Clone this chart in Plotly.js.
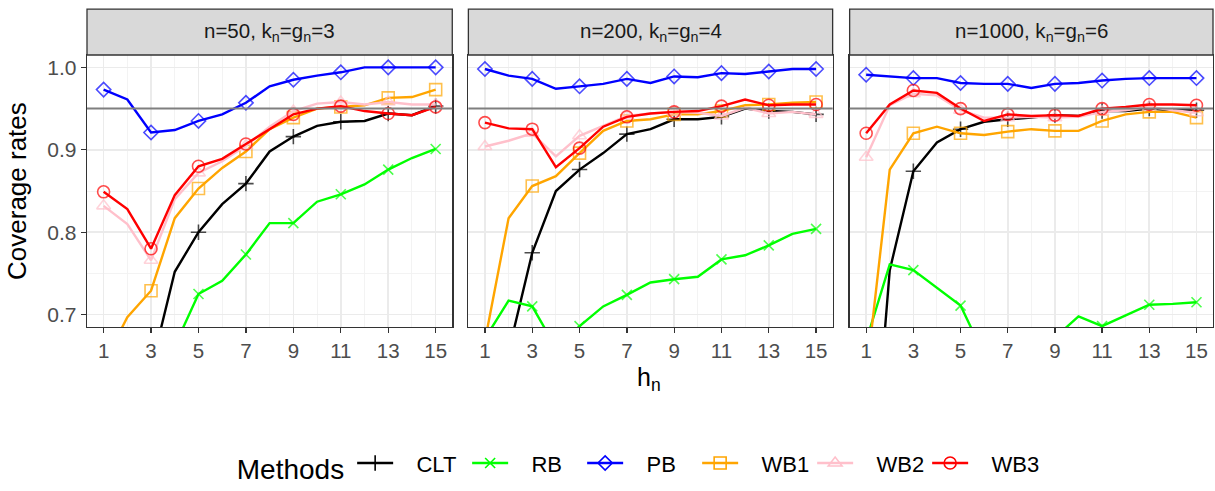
<!DOCTYPE html>
<html>
<head>
<meta charset="utf-8">
<script src="https://cdn.plot.ly/plotly-3.0.1.min.js"></script>
<style>html,body{margin:0;padding:0;background:#fff;}#chart{width:1215px;height:491px;}</style>
</head>
<body>
<div id="chart"></div>
<script>
// ---- data ----
const hn = [1,2,3,4,5,6,7,8,9,10,11,12,13,14,15];
const methods = ["CLT","RB","PB","WB1","WB2","WB3"];
const panelTitles = ["n=50, k<sub>n</sub>=g<sub>n</sub>=3", "n=200, k<sub>n</sub>=g<sub>n</sub>=4", "n=1000, k<sub>n</sub>=g<sub>n</sub>=6"];
const nominal = 0.95;
const xTicks = [1,3,5,7,9,11,13,15];
const yTicks = [0.7,0.8,0.9,1.0];

// panel n=50
const clt50 = [0.50,0.55,0.634,0.752,0.800,0.834,0.859,0.898,0.916,0.929,0.934,0.935,0.944,0.942,0.953];
const rb50  = [0.50,0.55,0.60,0.662,0.725,0.741,0.773,0.811,0.811,0.837,0.846,0.858,0.876,0.890,0.901];
const pb50  = [0.973,0.961,0.921,0.924,0.935,0.943,0.957,0.977,0.985,0.990,0.994,1.000,1.000,1.000,1.000];
const wb1_50 = [0.64,0.697,0.729,0.817,0.853,0.878,0.898,0.925,0.939,0.950,0.952,0.954,0.963,0.964,0.973];
const wb2_50 = [0.832,0.810,0.766,0.840,0.872,0.886,0.905,0.928,0.947,0.956,0.958,0.955,0.958,0.955,0.955];
const wb3_50 = [0.849,0.828,0.780,0.845,0.880,0.889,0.907,0.925,0.943,0.950,0.953,0.947,0.944,0.942,0.952];
// panel n=200
const clt200 = [0.60,0.655,0.775,0.850,0.876,0.896,0.919,0.925,0.937,0.937,0.940,0.950,0.947,0.946,0.943];
const rb200  = [0.671,0.717,0.710,0.66,0.686,0.710,0.724,0.739,0.743,0.746,0.767,0.772,0.784,0.798,0.804];
const pb200  = [0.998,0.990,0.986,0.974,0.977,0.980,0.986,0.981,0.989,0.988,0.993,0.992,0.995,0.998,0.998];
const wb1_200 = [0.668,0.817,0.856,0.868,0.896,0.923,0.935,0.937,0.943,0.943,0.947,0.954,0.955,0.957,0.958];
const wb2_200 = [0.904,0.911,0.920,0.892,0.917,0.929,0.941,0.944,0.946,0.945,0.941,0.951,0.944,0.946,0.943];
const wb3_200 = [0.933,0.926,0.925,0.879,0.902,0.928,0.940,0.944,0.946,0.947,0.953,0.961,0.954,0.955,0.955];
// panel n=1000
const clt1000 = [0.40,0.754,0.874,0.909,0.925,0.934,0.937,0.939,0.942,0.941,0.947,0.947,0.950,0.948,0.948];
const rb1000  = [0.668,0.761,0.754,0.733,0.711,0.651,0.64,0.65,0.672,0.698,0.686,0.699,0.712,0.713,0.715];
const pb1000  = [0.991,0.989,0.987,0.987,0.981,0.980,0.980,0.975,0.980,0.981,0.984,0.986,0.987,0.987,0.987];
const wb1_1000 = [0.624,0.876,0.920,0.928,0.920,0.918,0.922,0.925,0.923,0.923,0.935,0.943,0.946,0.946,0.939];
const wb2_1000 = [0.891,0.954,0.968,0.966,0.948,0.939,0.939,0.940,0.939,0.940,0.946,0.948,0.952,0.948,0.945];
const wb3_1000 = [0.920,0.955,0.972,0.969,0.950,0.935,0.943,0.941,0.942,0.941,0.950,0.952,0.955,0.955,0.954];

const panels = [
  [clt50, rb50, pb50, wb1_50, wb2_50, wb3_50],
  [clt200, rb200, pb200, wb1_200, wb2_200, wb3_200],
  [clt1000, rb1000, pb1000, wb1_1000, wb2_1000, wb3_1000]
];

// ---- styles ----
const colors = ["#000000","#00FF00","#0000FF","#FFA500","#FFC0CB","#FF0000"];
const symbols = ["cross-thin-open","x-thin-open","diamond-open","square-open","triangle-up-open","circle-open"];
const msizes = [11,10,11,12,12,12];
const FONT = "Liberation Sans, Arial, sans-serif";
const PAD = "\u00A0\u00A0\u00A0";

const traces = [];
panels.forEach((series, p) => {
  const xa = p === 0 ? "x" : "x" + (p + 1);
  const ya = p === 0 ? "y" : "y" + (p + 1);
  series.forEach((vals, m) => {
    traces.push({
      x: hn, y: vals, xaxis: xa, yaxis: ya,
      type: "scatter", mode: "lines+markers",
      name: methods[m], legendgroup: methods[m], showlegend: false,
      line: {color: colors[m], width: 2.4},
      marker: {symbol: symbols[m], color: colors[m],
               size: hn.map(h => h % 2 === 1 ? msizes[m] : 0),
               line: {color: colors[m], width: 1.6}},
      cliponaxis: true, hoverinfo: "x+y+name"
    });
  });
});
// legend entries
methods.forEach((name, m) => {
  traces.push({
    x: [null], y: [null], type: "scatter", mode: "lines+markers",
    name: PAD + name, legendgroup: name, showlegend: true,
    line: {color: colors[m], width: 2.4},
    marker: {symbol: symbols[m], color: colors[m], size: msizes[m], line: {color: colors[m], width: 1.6}}
  });
});

const domains = [[0, 0.3244], [0.3387, 0.6622], [0.6773, 1]];
const yRange = [0.685, 1.015];
const xRange = [0.3, 15.7];

const layout = {
  width: 1215, height: 491,
  margin: {l: 87, r: 2, t: 55, b: 158},
  paper_bgcolor: "#ffffff", plot_bgcolor: "#ffffff",
  font: {family: FONT, color: "#000000"},
  showlegend: true,
  legend: {
    orientation: "h", x: 0.49, xanchor: "center", y: -0.51, yanchor: "middle",
    title: {text: "Methods", font: {size: 28, family: FONT, color: "#000"}, side: "left"},
    font: {size: 22, family: FONT, color: "#000"},
    itemwidth: 36, entrywidth: 64, entrywidthmode: "pixels",
    bgcolor: "rgba(0,0,0,0)", traceorder: "normal"
  },
  shapes: [], annotations: []
};

for (let p = 0; p < 3; p++) {
  const suf = p === 0 ? "" : String(p + 1);
  const xa = "x" + suf, ya = "y" + suf;
  layout["xaxis" + suf] = {
    domain: domains[p], anchor: ya, range: xRange, fixedrange: true,
    tickmode: "array", tickvals: xTicks, ticktext: xTicks.map(String),
    ticks: "outside", ticklen: 5, tickwidth: 1.3, tickcolor: "#333333",
    tickfont: {size: 20.5, color: "#4D4D4D", family: FONT},
    showgrid: true, gridcolor: "#EBEBEB", gridwidth: 1.6,
    minor: {tickmode: "linear", tick0: 0, dtick: 1, showgrid: true, gridcolor: "#F2F2F2", gridwidth: 0.9, ticks: ""},
    showline: true, mirror: true, linecolor: "#333333", linewidth: 1.3,
    zeroline: false
  };
  layout["yaxis" + suf] = {
    domain: [0, 1], anchor: xa, range: yRange, fixedrange: true,
    tickmode: "array", tickvals: yTicks, ticktext: yTicks.map(v => v.toFixed(1)),
    showticklabels: p === 0,
    ticks: p === 0 ? "outside" : "", ticklen: 5, tickwidth: 1.3, tickcolor: "#333333",
    tickfont: {size: 21, color: "#4D4D4D", family: FONT},
    showgrid: true, gridcolor: "#EBEBEB", gridwidth: 1.6,
    minor: {tickmode: "linear", tick0: 0.65, dtick: 0.1, showgrid: true, gridcolor: "#F2F2F2", gridwidth: 0.9, ticks: ""},
    showline: true, mirror: true, linecolor: "#333333", linewidth: 1.3,
    zeroline: false
  };
  // nominal level line
  layout.shapes.push({
    type: "line", xref: xa + " domain", yref: ya, x0: 0, x1: 1, y0: nominal, y1: nominal,
    line: {color: "#7F7F7F", width: 2}, layer: "above"
  });
  // strip
  layout.shapes.push({
    type: "rect", xref: xa + " domain", yref: ya + " domain", x0: 0, x1: 1, y0: 1.0, y1: 1.169,
    fillcolor: "#D9D9D9", line: {color: "#333333", width: 1.3}, layer: "above"
  });
  layout.annotations.push({
    xref: xa + " domain", yref: ya + " domain", x: 0.5, y: 1.0845, xanchor: "center", yanchor: "middle",
    text: panelTitles[p], showarrow: false, font: {size: 20.5, color: "#1A1A1A", family: FONT}
  });
}
// axis titles
layout.annotations.push({
  xref: "paper", yref: "paper", x: 0.499, y: -0.19, xanchor: "center", yanchor: "middle",
  text: "h<sub>n</sub>", showarrow: false, font: {size: 25, color: "#000", family: FONT}
});
layout.annotations.push({
  xref: "paper", yref: "paper", x: -0.0622, y: 0.5, xanchor: "center", yanchor: "middle", textangle: -90,
  text: "Coverage rates", showarrow: false, font: {size: 26, color: "#000", family: FONT}
});

Plotly.newPlot("chart", traces, layout, {displayModeBar: false, staticPlot: true});
</script>
</body>
</html>
